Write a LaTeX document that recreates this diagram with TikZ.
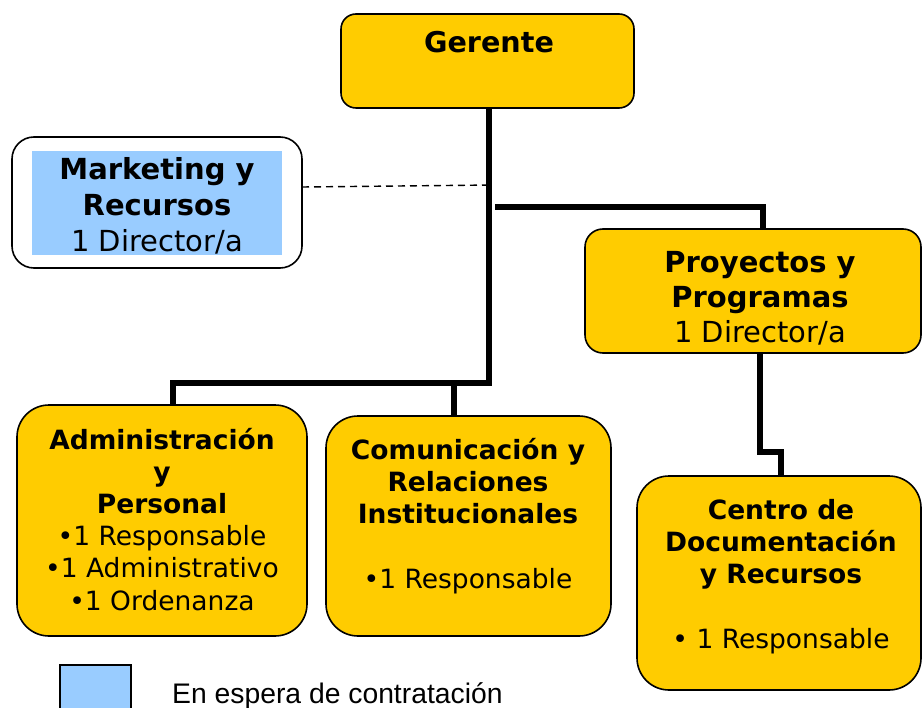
\documentclass[tikz,border=0pt]{standalone}
\usepackage{fontspec}
\setmainfont{DejaVu Sans}
\newfontfamily\arialfont{Liberation Sans}
\definecolor{gold}{HTML}{FFCC00}
\definecolor{sky}{HTML}{99CCFF}
\begin{document}
\begin{tikzpicture}[x=1pt,y=-1pt,
  box/.style={draw=black, line width=1.6pt, fill=gold, rounded corners=#1, inner sep=0pt, outer sep=0pt},
  box/.default=32pt,
  conn/.style={line width=5.5pt, line join=miter},
  dashline/.style={line width=1.4pt, dash pattern=on 7pt off 5pt},
  txt/.style={align=center, inner sep=0pt, anchor=base, font=\fontsize{26.5}{32.2}\selectfont},
  bigtxt/.style={txt, font=\fontsize{29}{36}\selectfont},
]
\useasboundingbox (0,0) rectangle (923,708);

% boxes
\node[box=15pt, minimum width=293pt, minimum height=94pt] (ger) at (487.5,61) {};
\node[box=22pt, fill=white, minimum width=290pt, minimum height=131pt] (mkt) at (157,202.5) {};
\node[fill=sky, inner sep=0pt, minimum width=250pt, minimum height=104pt] (mktin) at (157,203) {};
\node[box=18pt, minimum width=336pt, minimum height=124pt] (pro) at (753,291) {};
\node[box, minimum width=290pt, minimum height=231pt] (adm) at (162,520.5) {};
\node[box, minimum width=285pt, minimum height=220pt] (com) at (468.5,526) {};
\node[box, minimum width=284pt, minimum height=214pt] (cen) at (779,583) {};
\node[draw=black, line width=1.6pt, fill=sky, inner sep=0pt, minimum width=71pt, minimum height=47pt] (leg) at (95.5,688.5) {};

% texts (anchor base = baseline of the last line)
\node[txt, font=\fontsize{28.6}{34}\selectfont] (gert) at (489,53) {\textbf{Gerente}};
\node[bigtxt] (mktt) at (157,252) {\textbf{Marketing y}\\\textbf{Recursos}\\1 Director/a};
\node[bigtxt, font=\fontsize{29}{35}\selectfont] (prot) at (760,342) {\textbf{Proyectos y}\\\textbf{Programas}\\1 Director/a};
\node[txt] (admt) at (162,610) {\textbf{Administración}\\\textbf{y}\\\textbf{Personal}\\•1 Responsable\\•1 Administrativo\\•1 Ordenanza};
\node[txt] (comt) at (468,588) {\textbf{Comunicación y}\\\textbf{Relaciones}\\\textbf{Institucionales}\\[32.2pt]•1 Responsable};
\node[txt] (cent) at (781,648) {\textbf{Centro de}\\\textbf{Documentación}\\\textbf{y Recursos}\\[32.2pt]• 1 Responsable};
\node[txt, anchor=base west, font=\arialfont\fontsize{28.3}{34}\selectfont] (legt) at (172,703) {En espera de contratación};

% connectors
\coordinate (j1) at (489,383);
\coordinate (jl) at (173,383);
\coordinate (jc) at (454,383);
\draw[conn] (ger.south -| j1) -- (j1) -- (jl) -- (jl |- adm.north);
\draw[conn] (jc) -- (jc |- com.north);
\coordinate (jp0) at (495,207);
\coordinate (jp1) at (763,207);
\draw[conn] (jp0) -- (jp1) -- (jp1 |- pro.north);
\coordinate (jd0) at (760,452);
\coordinate (jd1) at (781,452);
\draw[conn] (pro.south -| jd0) -- (jd0) -- (jd1) -- (jd1 |- cen.north);
\coordinate (dl) at (303,187);
\coordinate (dr) at (493,185);
\draw[dashline] (mkt.east |- dl) -- (dr);
\end{tikzpicture}
\end{document}
